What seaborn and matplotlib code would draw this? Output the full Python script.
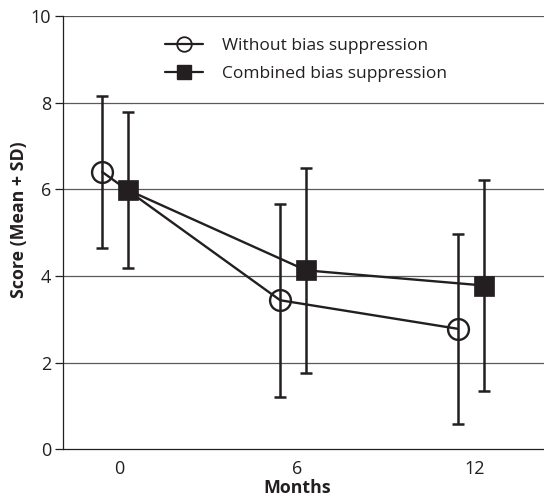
import matplotlib
matplotlib.use("Agg")
import matplotlib.pyplot as plt
from matplotlib.lines import Line2D
import seaborn as sns
import pandas as pd
import numpy as np

# ---- data ----
months = ["0", "6", "12"]
without_mean = [6.40, 3.44, 2.78]
without_sd = [1.76, 2.23, 2.20]
combined_mean = [5.98, 4.13, 3.78]
combined_sd = [1.80, 2.36, 2.44]
series_names = ["Without bias suppression", "Combined bias suppression"]
y_ticks = [0, 2, 4, 6, 8, 10]

sns.set_style("white")
plt.rcParams["font.family"] = ["Open Sans", "DejaVu Sans"]

INK = "#231f20"
W, H = 544, 500
fig = plt.figure(figsize=(W / 100, H / 100), dpi=100)
left, right, top, bottom = 63.3, 544, 16, 449.3
ax = fig.add_axes([left / W, (H - bottom) / H, (right - left) / W, (bottom - top) / H])

idx = np.arange(len(months))
offset = 0.073
df = pd.DataFrame({
    "pos": np.concatenate([idx - offset, idx + offset]),
    "mean": without_mean + combined_mean,
    "sd": without_sd + combined_sd,
    "group": [series_names[0]] * 3 + [series_names[1]] * 3,
})

# grid lines
for yv in y_ticks[1:]:
    ax.axhline(yv, color="#5a5a5a", lw=0.9, zorder=0)

d0 = df[df.group == series_names[0]]
d1 = df[df.group == series_names[1]]

ax.errorbar(d0["pos"], d0["mean"], yerr=d0["sd"], fmt="none", ecolor=INK,
            elinewidth=1.8, capsize=4.3, capthick=1.8, zorder=2)
ax.errorbar(d1["pos"], d1["mean"], yerr=d1["sd"], fmt="none", ecolor=INK,
            elinewidth=1.8, capsize=4.3, capthick=1.8, zorder=2)

sns.lineplot(data=d0, x="pos", y="mean", ax=ax, color=INK, lw=1.7,
             marker="o", markersize=15, markerfacecolor="none",
             markeredgecolor=INK, markeredgewidth=1.7, legend=False, zorder=3)
sns.lineplot(data=d1, x="pos", y="mean", ax=ax, color=INK, lw=1.7,
             marker="s", markersize=14.5, markerfacecolor=INK,
             markeredgecolor=INK, markeredgewidth=0.5, legend=False, zorder=4)

ax.set_xlim(-0.292, 2.41)
ax.set_ylim(0, 10)
ax.set_yticks(y_ticks)
ax.set_yticklabels([str(v) for v in y_ticks], fontsize=13, color=INK)
ax.set_xticks(idx + 0.02)
ax.set_xticklabels(months, fontsize=13, color=INK)
ax.tick_params(axis="x", length=0, pad=8)
ax.tick_params(axis="y", length=5.8, width=0.9, color=INK, pad=3, left=True)

for s in ["top", "right"]:
    ax.spines[s].set_visible(False)
for s in ["left", "bottom"]:
    ax.spines[s].set_color(INK)
    ax.spines[s].set_linewidth(0.9)

ax.set_xlabel("Months", fontsize=12.8, fontweight="bold", color=INK)
ax.set_ylabel("Score (Mean + SD)", fontsize=12.8, fontweight="bold", color=INK)
ax.xaxis.set_label_coords(0.486, -0.089)
ax.yaxis.set_label_coords(-0.092, 0.529)
ax.xaxis.label.set_va("center")
ax.yaxis.label.set_va("center")

handles = [
    Line2D([], [], color=INK, lw=1.6, marker="o", markersize=10.5,
           markerfacecolor="none", markeredgecolor=INK, markeredgewidth=1.3),
    Line2D([], [], color=INK, lw=1.6, marker="s", markersize=9.5,
           markerfacecolor=INK, markeredgecolor=INK),
]
leg = ax.legend(handles, series_names, loc="upper left",
                bbox_to_anchor=(0.2116, 0.950), frameon=False, fontsize=12.5,
                borderpad=0, borderaxespad=0, handlelength=2.2,
                handletextpad=1.1, labelspacing=0.68)
for t in leg.get_texts():
    t.set_color(INK)

fig.savefig("out.png", dpi=100)
